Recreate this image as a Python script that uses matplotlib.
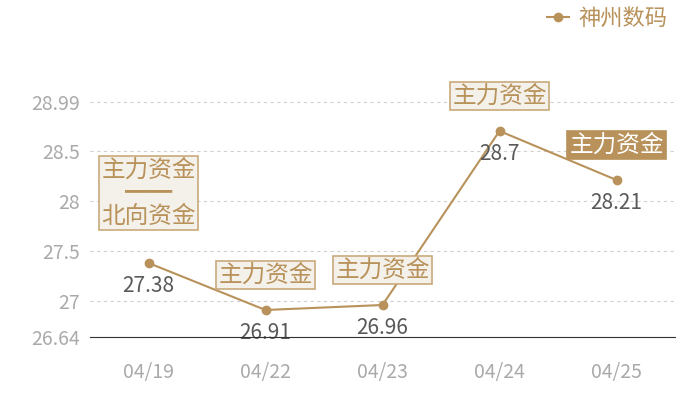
import matplotlib
matplotlib.use('Agg')
import matplotlib.pyplot as plt

plt.rcParams['font.family'] = ['Noto Sans CJK SC', 'DejaVu Sans']

# Data
dates = ['04/19', '04/22', '04/23', '04/24', '04/25']
prices = [27.38, 26.91, 26.96, 28.7, 28.21]
yticks = [26.64, 27, 27.5, 28, 28.5, 28.99]
notes = ['主力资金\n━━\n北向资金', '主力资金', '主力资金', '主力资金', '主力资金']
series_name = '神州数码'

gold = '#b8925a'
grey = '#aaaaaa'

fig = plt.figure(figsize=(7, 4), dpi=100)
# 100 px per unit on the y axis, from 26.64 up to 29.38
ax = fig.add_axes([90 / 700, 63 / 400, 585 / 700, 274 / 400])

x = list(range(len(dates)))
ax.plot(x, prices, color=gold, lw=1.5, marker='o', ms=6, label=series_name, zorder=3)

ax.set_xlim(-0.5, len(dates) - 0.5)
ax.set_ylim(26.64, 29.38)
ax.set_yticks(yticks)
ax.set_yticklabels([f'{v:g}' for v in yticks])
ax.set_xticks(x)
ax.set_xticklabels(dates)
ax.tick_params(axis='both', length=0, colors=grey, labelsize=14)
ax.tick_params(axis='x', pad=18)
ax.tick_params(axis='y', pad=7)
ax.grid(axis='y', ls=(0, (3, 3)), color='#d0d0d0', lw=0.8)
for s in ['top', 'right', 'left']:
    ax.spines[s].set_visible(False)
ax.spines['bottom'].set_color('#333333')
ax.spines['bottom'].set_zorder(5)

# value labels below the points
for xi, v in zip(x, prices):
    ax.annotate(f'{v:g}', (xi, v), xytext=(0, -23), textcoords='offset pixels',
                ha='center', va='center', fontsize=15, color='#595959', zorder=4)

# annotation boxes
for i, (xi, v, txt) in enumerate(zip(x, prices, notes)):
    last = i == len(x) - 1
    dy = 70 if '\n' in txt else 35
    ax.annotate(txt, (xi, v), xytext=(0, dy), textcoords='offset pixels',
                ha='center', va='center', fontsize=17, linespacing=1.0,
                color='white' if last else gold, zorder=6,
                bbox=dict(boxstyle='square,pad=0.1',
                          fc=gold if last else '#f4f0ea',
                          ec=gold if last else '#c9aa7c', lw=1.2))

leg = ax.legend(loc='center right', bbox_to_anchor=(678 / 700, 1 - 18 / 400),
                bbox_transform=fig.transFigure, frameon=False, fontsize=16,
                handlelength=1.0, handletextpad=0.4, borderpad=0)
for t in leg.get_texts():
    t.set_color(gold)

fig.savefig('out.png', dpi=100)
